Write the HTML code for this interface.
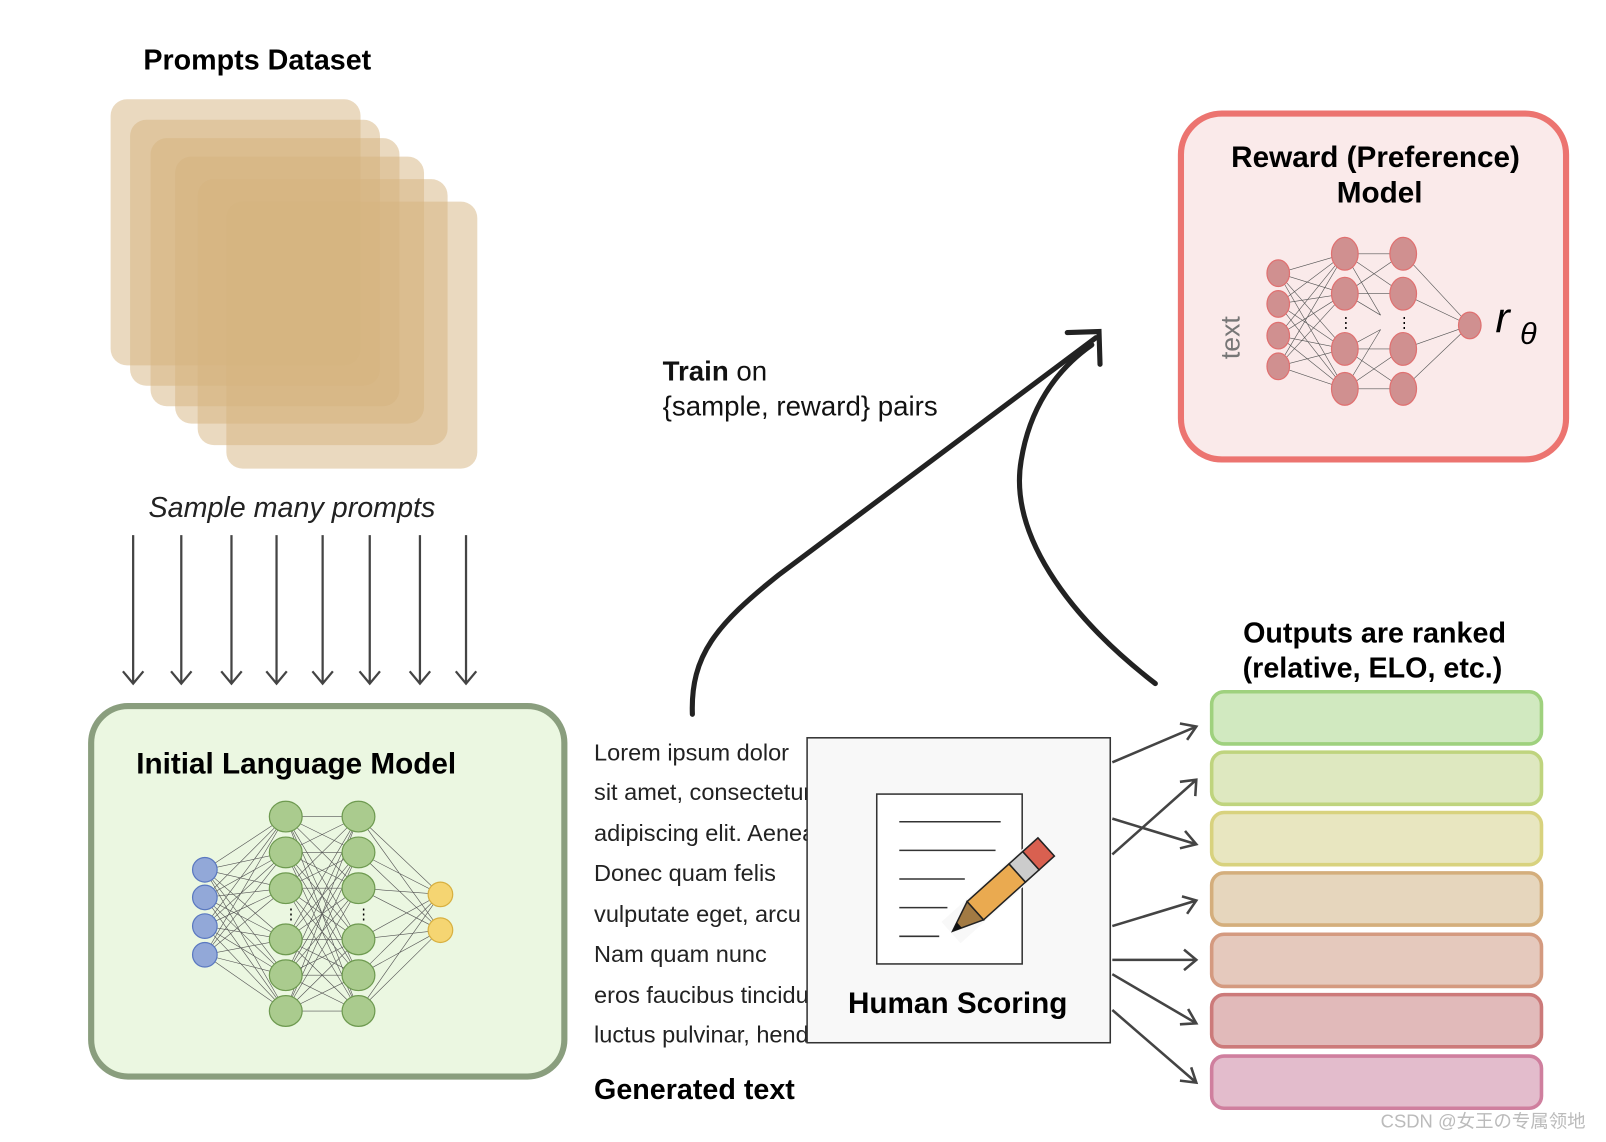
<!DOCTYPE html>
<html><head><meta charset="utf-8"><style>
html,body{margin:0;padding:0;background:#fff;}
svg{display:block;}
text{font-family:"Liberation Sans","Noto Sans CJK SC",sans-serif;}
</style></head><body>
<svg width="1606" height="1142" viewBox="0 0 1568 1116" preserveAspectRatio="none" xmlns="http://www.w3.org/2000/svg">
<rect width="1568" height="1116" fill="#fff"/>
<text x="140" y="68" font-size="28" font-weight="bold">Prompts Dataset</text>
<g fill="#d6b480" fill-opacity="0.5">
<rect x="108" y="97" width="244" height="260" rx="16"/>
<rect x="127" y="117" width="244" height="260" rx="16"/>
<rect x="147" y="135" width="243" height="262" rx="16"/>
<rect x="171" y="153" width="243" height="261" rx="16"/>
<rect x="193" y="175" width="244" height="260" rx="16"/>
<rect x="221" y="197" width="245" height="261" rx="16"/>
</g>
<text x="145" y="505" font-size="28" font-style="italic" fill="#222">Sample many prompts</text>
<g stroke="#444" stroke-width="2.2" fill="none">
<path d="M130,523V668M120,656L130,668L140,656"/>
<path d="M177,523V668M167,656L177,668L187,656"/>
<path d="M226,523V668M216,656L226,668L236,656"/>
<path d="M270,523V668M260,656L270,668L280,656"/>
<path d="M315,523V668M305,656L315,668L325,656"/>
<path d="M361,523V668M351,656L361,668L371,656"/>
<path d="M410,523V668M400,656L410,668L420,656"/>
<path d="M455,523V668M445,656L455,668L465,656"/>
</g>

<rect x="89" y="690" width="462" height="362" rx="36" fill="#ebf7e1" stroke="#8a9e7e" stroke-width="6"/>
<text x="133" y="756" font-size="29" font-weight="bold">Initial Language Model</text>
<g stroke="#555" stroke-width="0.6" fill="none">
<path d="M200,850L279,798M200,850L279,833M200,850L279,868M200,850L279,918M200,850L279,953M200,850L279,988
M200,877L279,798M200,877L279,833M200,877L279,868M200,877L279,918M200,877L279,953M200,877L279,988
M200,905L279,798M200,905L279,833M200,905L279,868M200,905L279,918M200,905L279,953M200,905L279,988
M200,933L279,798M200,933L279,833M200,933L279,868M200,933L279,918M200,933L279,953M200,933L279,988"/>
<path d="M279,798L350,798M279,798L350,833M279,798L350,868M279,798L350,918M279,798L350,953M279,798L350,988
M279,833L350,798M279,833L350,833M279,833L350,868M279,833L350,918M279,833L350,953M279,833L350,988
M279,868L350,798M279,868L350,833M279,868L350,868M279,868L350,918M279,868L350,953M279,868L350,988
M279,918L350,798M279,918L350,833M279,918L350,868M279,918L350,918M279,918L350,953M279,918L350,988
M279,953L350,798M279,953L350,833M279,953L350,868M279,953L350,918M279,953L350,953M279,953L350,988
M279,988L350,798M279,988L350,833M279,988L350,868M279,988L350,918M279,988L350,953M279,988L350,988"/>
<path d="M350,798L430,874M350,833L430,874M350,868L430,874M350,918L430,874M350,953L430,874M350,988L430,874
M350,798L430,909M350,833L430,909M350,868L430,909M350,918L430,909M350,953L430,909M350,988L430,909"/>
</g>
<g fill="#92a8d8" stroke="#5a78c0" stroke-width="1.2">
<circle cx="200" cy="850" r="12"/><circle cx="200" cy="877" r="12"/><circle cx="200" cy="905" r="12"/><circle cx="200" cy="933" r="12"/>
</g>
<g fill="#aacb8e" stroke="#6e9a50" stroke-width="1.2">
<ellipse cx="279" cy="798" rx="16" ry="15"/><ellipse cx="279" cy="833" rx="16" ry="15"/><ellipse cx="279" cy="868" rx="16" ry="15"/><ellipse cx="279" cy="918" rx="16" ry="15"/><ellipse cx="279" cy="953" rx="16" ry="15"/><ellipse cx="279" cy="988" rx="16" ry="15"/>
<ellipse cx="350" cy="798" rx="16" ry="15"/><ellipse cx="350" cy="833" rx="16" ry="15"/><ellipse cx="350" cy="868" rx="16" ry="15"/><ellipse cx="350" cy="918" rx="16" ry="15"/><ellipse cx="350" cy="953" rx="16" ry="15"/><ellipse cx="350" cy="988" rx="16" ry="15"/>
</g>
<g fill="#f5d572" stroke="#d8b040" stroke-width="1.2"><circle cx="430" cy="874" r="12"/><circle cx="430" cy="909" r="12"/></g>
<text x="284" y="898" font-size="14" text-anchor="middle">⋮</text>
<text x="355" y="898" font-size="14" text-anchor="middle">⋮</text>

<g font-size="23" fill="#222">
<text x="580" y="743">Lorem ipsum dolor</text>
<text x="580" y="782">sit amet, consectetur</text>
<text x="580" y="822">adipiscing elit. Aenean</text>
<text x="580" y="861">Donec quam felis</text>
<text x="580" y="901">vulputate eget, arcu</text>
<text x="580" y="940">Nam quam nunc</text>
<text x="580" y="980">eros faucibus tincidunt</text>
<text x="580" y="1019">luctus pulvinar, hendrerit</text>
</g>
<text x="580" y="1074" font-size="28" font-weight="bold">Generated text</text>

<rect x="788" y="721" width="296" height="298" fill="#f8f8f8" stroke="#333" stroke-width="1.5"/>
<rect x="856" y="776" width="142" height="166" fill="#fff" stroke="#333" stroke-width="1.5"/>
<g stroke="#333" stroke-width="1.5">
<line x1="878" y1="803" x2="977" y2="803"/>
<line x1="878" y1="831" x2="972" y2="831"/>
<line x1="878" y1="859" x2="942" y2="859"/>
<line x1="878" y1="887" x2="925" y2="887"/>
<line x1="878" y1="915" x2="917" y2="915"/>
</g>
<g transform="translate(930,910) rotate(-42)">
<rect x="-2" y="-14" width="130" height="28" fill="#f8f8f8"/>
<polygon points="0,0 30,-12 30,12" fill="#a27a43" stroke="#222" stroke-width="1.5"/>
<polygon points="0,0 9,-4 9,4" fill="#111"/>
<rect x="30" y="-12" width="55" height="24" fill="#eaaa50" stroke="#222" stroke-width="1.5"/>
<rect x="85" y="-12" width="18" height="24" fill="#ccc" stroke="#222" stroke-width="1.5"/>
<rect x="103" y="-12" width="20" height="24" fill="#d96050" stroke="#222" stroke-width="1.5"/>
</g>
<text x="935" y="990" font-size="29" font-weight="bold" text-anchor="middle">Human Scoring</text>

<text x="1342" y="628" font-size="28" font-weight="bold" text-anchor="middle">Outputs are ranked</text>
<text x="1340" y="662" font-size="28" font-weight="bold" text-anchor="middle">(relative, ELO, etc.)</text>
<g stroke-width="3.5">
<rect x="1183" y="676" width="322" height="51" rx="12" fill="#d1e9c0" stroke="#9fd17e"/>
<rect x="1183" y="735" width="322" height="51" rx="12" fill="#dee8c0" stroke="#bfd47e"/>
<rect x="1183" y="794" width="322" height="51" rx="12" fill="#e8e6c0" stroke="#d8d27e"/>
<rect x="1183" y="853" width="322" height="51" rx="12" fill="#e6d6bd" stroke="#d4ae7c"/>
<rect x="1183" y="913" width="322" height="51" rx="12" fill="#e5c9bd" stroke="#d49a80"/>
<rect x="1183" y="972" width="322" height="51" rx="12" fill="#e1baba" stroke="#cc7a7a"/>
<rect x="1183" y="1032" width="322" height="51" rx="12" fill="#e3bccc" stroke="#cf7f9e"/>
</g>
<g stroke="#444" stroke-width="2.5" fill="none">
<path d="M1086,745L1168,710M1152,707L1168,710L1159,723"/>
<path d="M1086,800L1168,825M1157,812L1168,825L1152,829"/>
<path d="M1086,835L1168,762M1152,764L1168,762L1167,778"/>
<path d="M1086,905L1168,880M1154,876L1168,880L1159,893"/>
<path d="M1086,938L1168,938M1156,928L1168,938L1156,948"/>
<path d="M1086,952L1168,1000M1160,986L1168,1000L1152,1001"/>
<path d="M1086,987L1168,1058M1163,1043L1168,1058L1152,1056"/>
</g>

<g stroke="#222" stroke-width="5" fill="none" stroke-linecap="round">
<path d="M676,698 C674,640 700,610 760,562 L1070,330"/>
<path d="M1128,668 C1040,600 985,520 997,450 C1005,400 1030,362 1066,337"/>
<path d="M1042,325 L1073,324 L1074,356"/>
</g>
<text x="647" y="372" font-size="27" fill="#111"><tspan font-weight="bold">Train</tspan> on</text>
<text x="647" y="406" font-size="27" fill="#111">{sample, reward} pairs</text>

<rect x="1153" y="111" width="376" height="338" rx="40" fill="#faeaea" stroke="#ec7470" stroke-width="6"/>
<text x="1343" y="163" font-size="29" font-weight="bold" text-anchor="middle">Reward (Preference)</text>
<text x="1347" y="198" font-size="29" font-weight="bold" text-anchor="middle">Model</text>
<g stroke="#555" stroke-width="0.6" fill="none">
<path d="M1248,267L1313,248M1248,267L1313,287M1248,267L1313,341M1248,267L1313,380
M1248,297L1313,248M1248,297L1313,287M1248,297L1313,341M1248,297L1313,380
M1248,328L1313,248M1248,328L1313,287M1248,328L1313,341M1248,328L1313,380
M1248,358L1313,248M1248,358L1313,287M1248,358L1313,341M1248,358L1313,380"/>
<path d="M1313,248L1370,248M1313,248L1370,287M1313,248L1348,308M1313,287L1370,248M1313,287L1370,287M1313,287L1348,308
M1313,341L1370,341M1313,341L1370,380M1313,341L1348,322M1313,380L1370,341M1313,380L1370,380M1313,380L1348,322"/>
<path d="M1370,248L1435,318M1370,287L1435,318M1370,341L1435,318M1370,380L1435,318"/>
</g>
<g fill="#d09090" stroke="#e07070" stroke-width="1.2">
<ellipse cx="1248" cy="267" rx="11" ry="13"/><ellipse cx="1248" cy="297" rx="11" ry="13"/><ellipse cx="1248" cy="328" rx="11" ry="13"/><ellipse cx="1248" cy="358" rx="11" ry="13"/>
<ellipse cx="1313" cy="248" rx="13" ry="16"/><ellipse cx="1313" cy="287" rx="13" ry="16"/><ellipse cx="1313" cy="341" rx="13" ry="16"/><ellipse cx="1313" cy="380" rx="13" ry="16"/>
<ellipse cx="1370" cy="248" rx="13" ry="16"/><ellipse cx="1370" cy="287" rx="13" ry="16"/><ellipse cx="1370" cy="341" rx="13" ry="16"/><ellipse cx="1370" cy="380" rx="13" ry="16"/>
<ellipse cx="1435" cy="318" rx="11" ry="13"/>
</g>
<text x="1314" y="320" font-size="14" text-anchor="middle">⋮</text>
<text x="1371" y="320" font-size="14" text-anchor="middle">⋮</text>
<text transform="translate(1210,330) rotate(-90)" font-size="26" fill="#777" text-anchor="middle">text</text>
<text x="1460" y="325" font-size="42" font-style="italic" font-family="Liberation Serif,serif">r</text>
<text x="1484" y="336" font-size="30" font-style="italic" font-family="Liberation Serif,serif">θ</text>

<text x="1348" y="1102" font-size="18" fill="#bbb">CSDN @女王の专属领地</text>
</svg>
</body></html>
